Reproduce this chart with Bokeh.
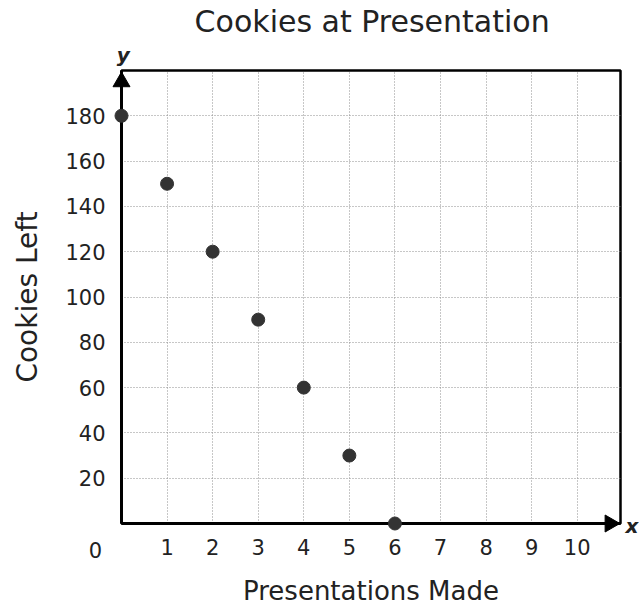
import math
from bokeh.plotting import figure
from bokeh.models import FixedTicker, Range1d
from bokeh.core.properties import value
from bokeh.embed import file_html
from bokeh.resources import INLINE

# ---- data ----
presentations = [0, 1, 2, 3, 4, 5, 6]
cookies = [180, 150, 120, 90, 60, 30, 0]
x_ticks = [1, 2, 3, 4, 5, 6, 7, 8, 9, 10]
y_ticks = [20, 40, 60, 80, 100, 120, 140, 160, 180]
origin_label = "0"
title_text = "Cookies at Presentation"
x_label = "Presentations Made"
y_label = "Cookies Left"

FONT = "DejaVu Sans"
TXT = "#222222"
X_MAX, Y_MAX = 10.95, 200

p = figure(width=639, height=610,
           x_range=Range1d(0, X_MAX), y_range=Range1d(0, Y_MAX),
           output_backend="svg", toolbar_location=None,
           min_border_left=121, min_border_right=19,
           min_border_top=70, min_border_bottom=87,
           background_fill_color="white", border_fill_color="white")

# axes
for ax in (p.xaxis[0], p.yaxis[0]):
    ax.axis_line_color = "black"
    ax.axis_line_width = 3
    ax.major_tick_line_color = None
    ax.minor_tick_line_color = None
    ax.major_tick_out = 0
    ax.major_tick_in = 0
    ax.major_label_text_font = FONT
    ax.major_label_text_font_size = "21px"
    ax.major_label_text_color = TXT
    ax.axis_label_text_font = FONT
    ax.axis_label_text_font_style = "normal"
    ax.axis_label_text_color = TXT

p.xaxis.ticker = FixedTicker(ticks=x_ticks)
p.yaxis.ticker = FixedTicker(ticks=y_ticks)
p.xaxis.axis_label = x_label
p.yaxis.axis_label = y_label
p.xaxis.axis_label_text_font_size = "26px"
p.yaxis.axis_label_text_font_size = "28px"
p.xaxis.major_label_standoff = 15
p.xaxis.axis_label_standoff = 18
p.yaxis.major_label_standoff = 16
p.yaxis.axis_label_standoff = 18

# grid
p.xgrid.ticker = FixedTicker(ticks=x_ticks)
p.ygrid.ticker = FixedTicker(ticks=y_ticks)
for g in (p.xgrid[0], p.ygrid[0]):
    g.grid_line_color = "#8f8f8f"
    g.grid_line_dash = "1 2"
    g.grid_line_width = 1

p.outline_line_color = "black"
p.outline_line_width = 2.5
p.outline_line_alpha = 1

# points
p.scatter(presentations, cookies, size=13, color="#333333", level="overlay")

# axis arrowheads
p.scatter(x=[0], y=[Y_MAX - 5], marker="triangle", size=17, angle=0,
          color="black", level="overlay")
p.scatter(x=[X_MAX - 0.23], y=[0], marker="triangle", size=17, angle=-math.pi / 2,
          color="black", level="overlay")

# title, axis letters and origin label (text glyphs)
p.text(x=[5.5], y=[221.6], text=[title_text], text_font=value(FONT),
       text_font_size=value("30px"), text_color=TXT, text_align="center",
       text_baseline="middle", level="overlay")
p.text(x=[0.04, 11.2], y=[207, -1.3], text=["y", "x"], text_font=value(FONT),
       text_font_size=value("20px"), text_font_style="bold italic", text_color=TXT,
       text_align="center", text_baseline="middle", level="overlay")
p.text(x=[-0.57], y=[-11.5], text=[origin_label], text_font=value(FONT),
       text_font_size=value("21px"), text_color=TXT, text_align="center",
       text_baseline="middle", level="overlay")

open("out.html", "w").write(file_html(p, INLINE))
